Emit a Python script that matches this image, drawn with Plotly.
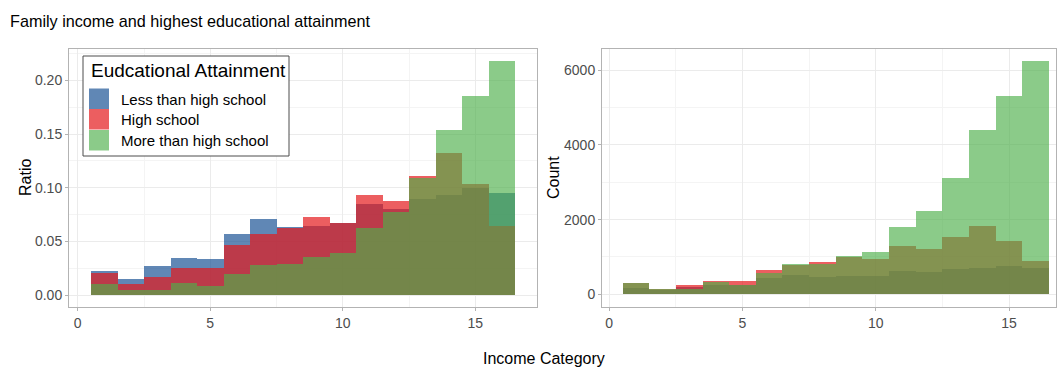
import plotly.graph_objects as go

# Income categories 1..16 and household counts per educational group
income_category = list(range(1, 17))
groups = ["Less than high school", "High school", "More than high school"]
count_less_than_hs = [172, 110, 202, 262, 252, 428, 530, 472, 482, 502, 633, 600, 668, 701, 748, 713]
count_high_school = [290, 146, 240, 352, 348, 649, 787, 860, 998, 933, 1290, 1213, 1532, 1822, 1431, 883]
count_more_than_hs = [296, 144, 152, 321, 250, 574, 804, 824, 1027, 1137, 1797, 2219, 3128, 4391, 5310, 6242]

counts = [count_less_than_hs, count_high_school, count_more_than_hs]
colors = ["rgba(28,84,149,0.7)", "rgba(228,26,28,0.7)", "rgba(77,175,74,0.65)"]

W, H = 1057, 368
TOP, BOTTOM = 49, 307          # plotting area in figure pixels
FONT = "Liberation Sans, Arial, Helvetica, sans-serif"


def py(p):
    """Figure pixel row -> paper y (relative to the plotting area)."""
    return (BOTTOM - p) / (BOTTOM - TOP)


def px(p):
    return p / W


fig = go.Figure()

for name, cnt, col in zip(groups, counts, colors):
    total = sum(cnt)
    ratio = [c / total for c in cnt]
    fig.add_trace(go.Bar(
        x=income_category, y=ratio, width=1, name=name,
        marker=dict(color=col, line=dict(width=0)),
        showlegend=False, xaxis="x", yaxis="y",
    ))
    fig.add_trace(go.Bar(
        x=income_category, y=cnt, width=1, name=name,
        marker=dict(color=col, line=dict(width=0)),
        showlegend=False, xaxis="x2", yaxis="y2",
    ))

grid_major = "#EBEBEB"
grid_minor = "#F4F4F4"
frame = "#B3B3B3"
tick_font = dict(family=FONT, size=14, color="#4D4D4D")


def xaxis_style(domain, rng, anchor):
    return dict(
        domain=domain, range=rng, anchor=anchor,
        tickvals=[0, 5, 10, 15], ticks="outside", ticklen=3, tickcolor=frame,
        tickfont=tick_font, showgrid=True, gridcolor=grid_major, gridwidth=1,
        minor=dict(dtick=2.5, tick0=0, showgrid=True, gridcolor=grid_minor, gridwidth=1),
        showline=True, linecolor=frame, linewidth=1, mirror=True, zeroline=False,
    )


def yaxis_style(rng, anchor, tickvals, fmt):
    minor_step = (tickvals[1] - tickvals[0]) / 2
    return dict(
        domain=[0, 1], range=rng, anchor=anchor,
        tickvals=tickvals, tickformat=fmt, ticks="outside", ticklen=3, tickcolor=frame,
        tickfont=tick_font, showgrid=True, gridcolor=grid_major, gridwidth=1,
        minor=dict(dtick=minor_step, tick0=0, showgrid=True, gridcolor=grid_minor, gridwidth=1),
        showline=True, linecolor=frame, linewidth=1, mirror=True, zeroline=False,
    )


def label(text, x, y, size=16, angle=0, anchor="center"):
    return dict(text=text, x=px(x), y=py(y), xref="paper", yref="paper",
                xanchor=anchor, yanchor="middle", showarrow=False, textangle=angle,
                font=dict(family=FONT, size=size, color="black"))


# Legend drawn as a framed key inside the left panel
shapes = [dict(type="rect", xref="paper", yref="paper",
               x0=px(83), x1=px(289), y0=py(156), y1=py(56),
               line=dict(color="#4D4D4D", width=1), fillcolor="white", layer="above")]
annotations = [label("Eudcational Attainment", 89, 70, size=19, anchor="left")]
row_top = [88.5, 109, 130]
for name, col, top in zip(groups, colors, row_top):
    shapes.append(dict(type="rect", xref="paper", yref="paper",
                       x0=px(89), x1=px(109), y0=py(top + 20.5), y1=py(top),
                       line=dict(width=0), fillcolor=col, layer="above"))
    annotations.append(label(name, 119, top + 10.5, size=15, anchor="left"))

# Axis titles
annotations.append(label("Income Category", 544, 358))
annotations.append(label("Ratio", 25, 178, angle=-90))
annotations.append(label("Count", 553, 178, angle=-90))

fig.update_layout(
    width=W, height=H,
    margin=dict(l=0, r=0, t=TOP, b=H - BOTTOM),
    paper_bgcolor="white", plot_bgcolor="white",
    barmode="overlay", bargap=0, showlegend=False,
    font=dict(family=FONT, color="black"),
    title=dict(text="Family income and highest educational attainment",
               x=10 / W, xanchor="left", y=1 - 21 / H, yanchor="middle",
               font=dict(family=FONT, size=16.2, color="black")),
    xaxis=xaxis_style([px(69), px(537)], [-0.33, 17.33], "y"),
    yaxis=yaxis_style([-0.0109, 0.2292], "x", [0, 0.05, 0.10, 0.15, 0.20], ".2f"),
    xaxis2=xaxis_style([px(602), px(1056)], [-0.27, 16.76], "y2"),
    yaxis2=yaxis_style([-340, 6570], "x2", [0, 2000, 4000, 6000], "d"),
    shapes=shapes,
    annotations=annotations,
)

fig.write_html("out.html")
